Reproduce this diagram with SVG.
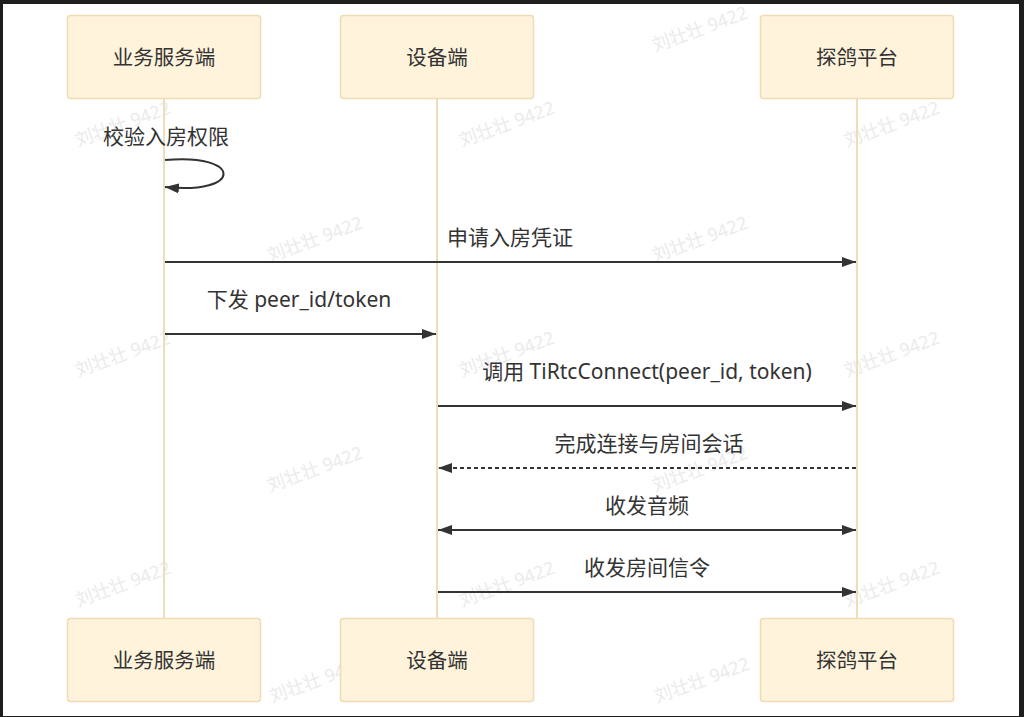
<svg xmlns="http://www.w3.org/2000/svg" width="1024" height="717" viewBox="0 0 1024 717">
<defs>
<style>
.actor{fill:#fff3dc;stroke:#efdcb4;stroke-width:1.5}
.alabel{font-family:"Noto Sans","Noto Sans CJK SC",sans-serif;font-size:20.5px;fill:#333;text-anchor:middle;dominant-baseline:central}
.life{stroke:#efdcb8;stroke-width:2;fill:none}
.msg{stroke:#333;stroke-width:2;fill:none}
.dash{stroke-dasharray:4 3}
.mlabel{font-family:"Noto Sans","Noto Sans CJK SC",sans-serif;font-size:21px;fill:#333;text-anchor:middle}
.wm{font-family:"Noto Sans","Noto Sans CJK SC",sans-serif;font-size:18px;fill:#ebebeb}
</style>
<marker id="arr" viewBox="0 0 14 10" refX="14" refY="5" markerWidth="14" markerHeight="10" markerUnits="userSpaceOnUse" orient="auto-start-reverse">
<path d="M0,0 L14,5 L0,10 z" fill="#333"/>
</marker>
</defs>
<rect x="0" y="0" width="1024" height="717" fill="#1e1e1e"/>
<rect x="3" y="4" width="1016" height="712" fill="#ffffff"/>
<g id="watermarks">
<text class="wm" transform="translate(655,52) rotate(-20)">刘壮壮 9422</text>
<text class="wm" transform="translate(78,147) rotate(-20)">刘壮壮 9422</text>
<text class="wm" transform="translate(462,147) rotate(-20)">刘壮壮 9422</text>
<text class="wm" transform="translate(847,147) rotate(-20)">刘壮壮 9422</text>
<text class="wm" transform="translate(270,262) rotate(-20)">刘壮壮 9422</text>
<text class="wm" transform="translate(655,262) rotate(-20)">刘壮壮 9422</text>
<text class="wm" transform="translate(78,377) rotate(-20)">刘壮壮 9422</text>
<text class="wm" transform="translate(462,377) rotate(-20)">刘壮壮 9422</text>
<text class="wm" transform="translate(847,377) rotate(-20)">刘壮壮 9422</text>
<text class="wm" transform="translate(270,492) rotate(-20)">刘壮壮 9422</text>
<text class="wm" transform="translate(655,492) rotate(-20)">刘壮壮 9422</text>
<text class="wm" transform="translate(78,607) rotate(-20)">刘壮壮 9422</text>
<text class="wm" transform="translate(462,607) rotate(-20)">刘壮壮 9422</text>
<text class="wm" transform="translate(847,607) rotate(-20)">刘壮壮 9422</text>
<text class="wm" transform="translate(272,703) rotate(-20)">刘壮壮 9422</text>
<text class="wm" transform="translate(657,703) rotate(-20)">刘壮壮 9422</text>
</g>
<g id="lifelines">
<line class="life" x1="164" y1="98" x2="164" y2="618"/>
<line class="life" x1="437" y1="98" x2="437" y2="618"/>
<line class="life" x1="857" y1="98" x2="857" y2="618"/>
</g>
<g id="actor-biz-top"><rect class="actor" x="67.500" y="15.500" width="193" height="83" rx="3"/><text class="alabel" x="164" y="57">业务服务端</text></g>
<g id="actor-dev-top"><rect class="actor" x="340.500" y="15.500" width="193" height="83" rx="3"/><text class="alabel" x="437" y="57">设备端</text></g>
<g id="actor-plat-top"><rect class="actor" x="760.500" y="15.500" width="193" height="83" rx="3"/><text class="alabel" x="857" y="57">探鸽平台</text></g>
<g id="actor-biz-bottom"><rect class="actor" x="67.500" y="618.500" width="193" height="83" rx="3"/><text class="alabel" x="164" y="660">业务服务端</text></g>
<g id="actor-dev-bottom"><rect class="actor" x="340.500" y="618.500" width="193" height="83" rx="3"/><text class="alabel" x="437" y="660">设备端</text></g>
<g id="actor-plat-bottom"><rect class="actor" x="760.500" y="618.500" width="193" height="83" rx="3"/><text class="alabel" x="857" y="660">探鸽平台</text></g>
<g id="connectors">
<path class="msg" d="M165,160 C243,153 243,195 165,187" marker-end="url(#arr)"/>
<line class="msg" x1="165" y1="262" x2="856" y2="262" marker-end="url(#arr)"/>
<line class="msg" x1="165" y1="334" x2="436" y2="334" marker-end="url(#arr)"/>
<line class="msg" x1="438" y1="406" x2="856" y2="406" marker-end="url(#arr)"/>
<line class="msg dash" x1="856" y1="468" x2="438" y2="468" marker-end="url(#arr)"/>
<line class="msg" x1="438" y1="530" x2="856" y2="530" marker-start="url(#arr)" marker-end="url(#arr)"/>
<line class="msg" x1="438" y1="592" x2="856" y2="592" marker-end="url(#arr)"/>
</g>
<g id="labels">
<text class="mlabel" x="166" y="144">校验入房权限</text>
<text class="mlabel" x="510" y="245">申请入房凭证</text>
<text class="mlabel" x="299" y="307">下发 peer_id/token</text>
<text class="mlabel" x="647" y="379">调用 TiRtcConnect(peer_id, token)</text>
<text class="mlabel" x="649" y="451">完成连接与房间会话</text>
<text class="mlabel" x="647" y="513">收发音频</text>
<text class="mlabel" x="647" y="575">收发房间信令</text>
</g>
</svg>
